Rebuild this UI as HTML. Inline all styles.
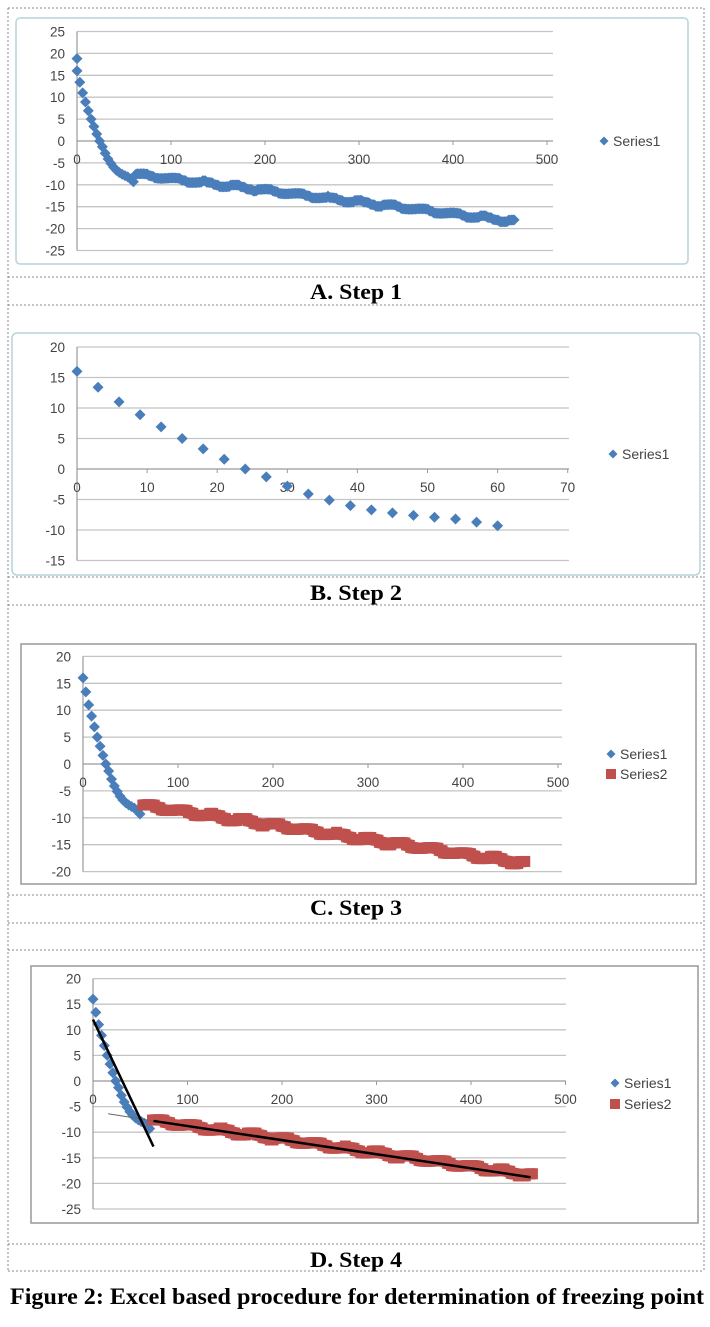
<!DOCTYPE html>
<html><head><meta charset="utf-8"><style>
html,body{margin:0;padding:0;background:#fff;}
svg{display:block;}
</style></head><body>
<svg id="s" width="710" height="1327" xmlns="http://www.w3.org/2000/svg" font-family="Liberation Sans, sans-serif">
</svg>
<script>
var S=document.getElementById('s');var NS='http://www.w3.org/2000/svg';
function el(t,a,txt){var e=document.createElementNS(NS,t);for(var k in a)e.setAttribute(k,a[k]);if(txt!=null)e.textContent=txt;S.appendChild(e);return e;}
function dash(x1,y1,x2,y2){el('line',{x1:x1,y1:y1,x2:x2,y2:y2,stroke:'#888','stroke-width':1,'stroke-dasharray':'2,2'});}
dash(8,8,704,8);dash(8,8,8,1271);dash(704,8,704,1271);
[277,305,577,605,895,923,950,1244,1271].forEach(function(y){dash(8,y,704,y);});
function cap(t,y){el('text',{x:310,y:y,'font-family':'Liberation Serif, serif','font-weight':'bold','font-size':22,textLength:92,lengthAdjust:'spacingAndGlyphs'},t);}
cap('A. Step 1',299);cap('B. Step 2',600);cap('C. Step 3',915);cap('D. Step 4',1267);
el('text',{x:10,y:1304,'font-family':'Liberation Serif, serif','font-weight':'bold','font-size':23,textLength:694,lengthAdjust:'spacingAndGlyphs'},'Figure 2: Excel based procedure for determination of freezing point');
var s1=[16,13.4,11,8.9,6.9,5,3.3,1.6,0,-1.3,-2.8,-4.1,-5.1,-6,-6.7,-7.2,-7.6,-7.9,-8.2,-8.7,-9.3];
var s2=[];for(var x=63;x<=465;x+=1.5){var v=-7.6-(x-63)*0.0268+0.35*Math.sin((x-63)/33*2*Math.PI);v=Math.round(v*2)/2*0.6+v*0.4;s2.push([x,v]);}
function chart(o){
 el('rect',{x:o.bx,y:o.by,width:o.bw,height:o.bh,fill:'#fff',stroke:o.bc,'stroke-width':1.5,rx:o.rx||0});
 var X=function(v){return o.ax+v*o.xs;},Y=function(v){return o.y0-v*o.ys;};
 for(var v=o.ymin;v<=o.ymax;v+=o.ystep){
  el('line',{x1:o.ax,y1:Y(v),x2:o.gx,y2:Y(v),stroke:v==0?'#999':'#c4c4c4','stroke-width':1.3});
  el('text',{x:o.ax-12,y:Y(v)+5,'text-anchor':'end','font-size':13.5,fill:'#444'},v);
 }
 el('line',{x1:o.ax,y1:Y(o.ymax),x2:o.ax,y2:Y(o.ymin),stroke:'#999','stroke-width':1.2});
 for(var v=0;v<=o.xmax;v+=o.xstep){
  el('line',{x1:X(v),y1:o.y0,x2:X(v),y2:o.y0+4,stroke:'#999'});
  el('text',{x:X(v),y:o.y0+23,'text-anchor':'middle','font-size':13.5,fill:'#444'},v);
 }
 return {X:X,Y:Y};
}
function dia(x,y,r){el('path',{d:'M'+x+' '+(y-r)+'L'+(x+r)+' '+y+'L'+x+' '+(y+r)+'L'+(x-r)+' '+y+'Z',fill:'#4a7ebb'});}
function sq(x,y,r){el('rect',{x:x-r,y:y-r,width:2*r,height:2*r,fill:'#c0504d'});}
function leg(x,y,t,type){if(type=='d')dia(x,y,4.5);else sq(x,y,5);el('text',{x:x+9,y:y+5,'font-size':14,fill:'#444'},t);}
var a=chart({bx:16,by:18,bw:672,bh:246,bc:'#b7d4dc',rx:4,ax:77,xs:0.94,y0:141,ys:4.38,ymin:-25,ymax:25,ystep:5,gx:553,xmax:500,xstep:100});
dia(a.X(0),a.Y(18.8),5.5);
s1.forEach(function(v,i){dia(a.X(i*3),a.Y(v),5.5);});
s2.forEach(function(p){dia(a.X(p[0]),a.Y(p[1]),5.5);});
leg(604,141,'Series1','d');
var b=chart({bx:12,by:333,bw:688,bh:242,bc:'#b7d4dc',rx:5,ax:77,xs:7.01,y0:469,ys:6.1,ymin:-15,ymax:20,ystep:5,gx:569,xmax:70,xstep:10});
s1.forEach(function(v,i){dia(b.X(i*3),b.Y(v),5.5);});
leg(613,454,'Series1','d');
var c=chart({bx:21,by:644,bw:675,bh:240,bc:'#999',ax:83,xs:0.95,y0:764,ys:5.38,ymin:-20,ymax:20,ystep:5,gx:562,xmax:500,xstep:100});
s1.forEach(function(v,i){dia(c.X(i*3),c.Y(v),5.5);});
s2.forEach(function(p){sq(c.X(p[0]),c.Y(p[1])+0.5,5.5);});
leg(611,754,'Series1','d');leg(611,774,'Series2','s');
var d=chart({bx:31,by:966,bw:667,bh:257,bc:'#999',ax:93,xs:0.945,y0:1081,ys:5.12,ymin:-25,ymax:20,ystep:5,gx:566,xmax:500,xstep:100});
s1.forEach(function(v,i){dia(d.X(i*3),d.Y(v),5.5);});
s2.forEach(function(p){sq(d.X(p[0]),d.Y(p[1])+0.5,5.5);});
el('line',{x1:d.X(16),y1:d.Y(-6.4),x2:d.X(64),y2:d.Y(-7.8),stroke:'#666','stroke-width':1});
el('line',{x1:d.X(0),y1:d.Y(12),x2:d.X(64),y2:d.Y(-12.8),stroke:'#000','stroke-width':2.5});
el('line',{x1:d.X(64),y1:d.Y(-7.8),x2:d.X(463),y2:d.Y(-18.8),stroke:'#000','stroke-width':2.5});
leg(615,1083,'Series1','d');leg(615,1104,'Series2','s');
</script>
</body></html>
